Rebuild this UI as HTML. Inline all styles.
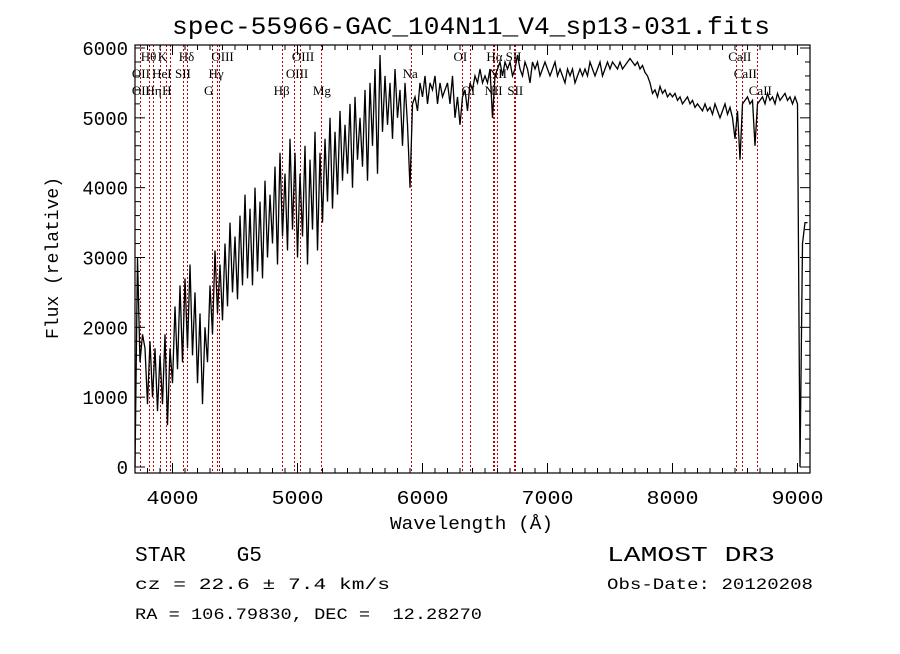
<!DOCTYPE html>
<html><head><meta charset="utf-8">
<style>
html,body{margin:0;padding:0;background:#fff;}
svg text{font-family:"Liberation Mono",monospace;}
.lbl{font-family:"Liberation Serif",serif;font-size:13px;fill:#000;}
</style></head>
<body>
<svg id="chart" width="900" height="649" xmlns="http://www.w3.org/2000/svg">
<rect width="900" height="649" fill="#fff"/>
<text x="172" y="34" font-size="25" textLength="598" lengthAdjust="spacingAndGlyphs">spec-55966-GAC_104N11_V4_sp13-031.fits</text>
<text x="390" y="529" font-size="18" textLength="163" lengthAdjust="spacingAndGlyphs">Wavelength (Å)</text>
<text transform="translate(58,258) rotate(-90)" text-anchor="middle" font-size="18">Flux (relative)</text>
<g id="lines"></g>
<g id="labels"></g>
<polyline id="spec" fill="none" stroke="#000" stroke-width="1.3"/>
<g id="axes"></g>
<text x="135" y="561" font-size="21" textLength="127" lengthAdjust="spacingAndGlyphs" xml:space="preserve">STAR    G5</text>
<text x="607" y="561" font-size="21" textLength="168" lengthAdjust="spacingAndGlyphs">LAMOST DR3</text>
<text x="135" y="589" font-size="16" textLength="255" lengthAdjust="spacingAndGlyphs">cz = 22.6 ± 7.4 km/s</text>
<text x="607" y="589" font-size="16" textLength="206" lengthAdjust="spacingAndGlyphs">Obs-Date: 20120208</text>
<text x="135" y="619" font-size="16" textLength="347" lengthAdjust="spacingAndGlyphs" xml:space="preserve">RA = 106.79830, DEC =  12.28270</text>
</svg>
<script>
const waveStart = 3700, waveStep = 20;
const flux = [
0,3000,1500,1900,1700, 900,1800,1000,1700,800, 1600,900,1900,600,1700,
1200,2300,1400,2600,1500, 2700,1700,2900,1600,2500, 1200,2200,900,2000,1500,
2600,1900,3100,2200,2900, 2100,3200,2300,3500,2500, 3300,2400,3600,2600,3900,
2700,3700,2600,4000,2800, 3800,2700,4100,3000,3900, 3200,4300,2900,4500,3300,
4200,3100,4700,3400,4500, 3000,4200,3300,4600,2900, 4400,3400,4800,3100,4500,
3500,4700,3800,5000,3700, 4800,3900,5100,4100,4900, 4200,5200,4000,5300,4400,
5000,4300,5400,4100,5500, 4600,5700,4200,5900,4800, 5600,4900,5500,4700,5700,
5000,5400,4600,5500,4900, 4000,5200,5300,5100,5500, 5300,5600,5200,5500,5400,
5600,5200,5500,5300,5400, 5500,5200,5600,5000,5300, 4900,5300,5400,5100,5500,
5400,5600,5500,5700,5500, 5600,5500,5700,5000,5600, 5700,5800,5600,5800,5700,
5800,5600,5700,5900,5700, 5600,5800,5700,5500,5800, 5700,5800,5600,5700,5800,
5700,5600,5700,5800,5600, 5700,5600,5500,5700,5600, 5700,5500,5600,5700,5600,
5700,5600,5800,5700,5600, 5700,5800,5600,5700,5800, 5700,5800,5750,5700,5800,
5700,5750,5800,5850,5800, 5750,5800,5700,5750,5650, 5600,5500,5350,5400,5300,
5450,5350,5400,5300,5350, 5300,5350,5250,5300,5200, 5250,5300,5200,5250,5150,
5200,5150,5100,5200,5100, 5150,5050,5200,5100,5000, 5100,5200,5050,5150,5000,
4700,5100,4400,5200,5250, 5300,5200,5250,4600,5200, 5250,5300,5200,5350,5250,
5300,5200,5350,5250,5300, 5350,5250,5300,5200,5300, 5200,0,3200,3500,3500];
const lineWaves = [3727,3798,3835,3889,3934,3969,4072,4102,4304,4340,4363,4861,4959,5007,5175,5893,6300,6364,6548,6563,6583,6717,6731,8498,8542,8662];
const labelTexts = ["Hθ","K","Hδ","OIII","OIII","OI","Hα","SII","CaII","OII","HeI","SII","Hγ","OIII","Na","NII","CaII","OII","Hη","H","G","Hβ","Mg","OI","NII","SII","CaII"];
const labelWaves = [3798,3934,4102,4363,5007,6300,6563,6717,8498,3727,3889,4072,4340,4959,5893,6583,8542,3727,3835,3969,4304,4861,5175,6364,6548,6731,8662];
const labelRows = [0,0,0,0,0,0,0,0,0,1,1,1,1,1,1,1,1,2,2,2,2,2,2,2,2,2,2];
const xTicks = [4000,5000,6000,7000,8000,9000];
const yTicks = [0,1000,2000,3000,4000,5000,6000];

const L=135,R=810,T=45,B=473, xmin=3700,xmax=9100, ymin=-86,ymax=6043;
const X=w=>L+(w-xmin)/(xmax-xmin)*(R-L);
const Y=f=>B-(f-ymin)/(ymax-ymin)*(B-T);
const NS="http://www.w3.org/2000/svg";
function mk(tag,attrs,parent){const e=document.createElementNS(NS,tag);for(const k in attrs)e.setAttribute(k,attrs[k]);parent.appendChild(e);return e;}

const gl=document.getElementById('lines');
lineWaves.forEach(w=>{const x=Math.round(X(w+12))+0.5;
 const l=mk('line',{x1:x,x2:x,y1:T,y2:B,stroke:'#c00000','stroke-width':1,'stroke-dasharray':'2,2'},gl);
 
 });

const glb=document.getElementById('labels');
labelTexts.forEach((t,i)=>{
 const e=mk('text',{x:X(labelWaves[i]+12)-8,y:61+labelRows[i]*17,class:'lbl'},glb);
 e.textContent=t;
 
 });

document.getElementById('spec').setAttribute('points',flux.map((f,i)=>X(waveStart+i*waveStep).toFixed(1)+','+Y(f).toFixed(1)).join(' '));

const ga=document.getElementById('axes');
mk('rect',{x:L,y:T,width:R-L,height:B-T,fill:'none',stroke:'#000','stroke-width':1.2},ga);
for(let w=3700;w<=xmax;w+=100){const x=X(w),maj=w%1000===0,len=maj?10:5;
 mk('line',{x1:x,x2:x,y1:B,y2:B-len,stroke:'#000'},ga);
 mk('line',{x1:x,x2:x,y1:T,y2:T+len,stroke:'#000'},ga);}
for(let f=0;f<=6000;f+=200){const y=Y(f),maj=f%1000===0,len=maj?10:5;
 mk('line',{x1:L,x2:L+len,y1:y,y2:y,stroke:'#000'},ga);
 mk('line',{x1:R,x2:R-len,y1:y,y2:y,stroke:'#000'},ga);}
xTicks.forEach(w=>{const t=mk('text',{x:X(w)-26,y:504,'font-size':'19',textLength:'52',lengthAdjust:'spacingAndGlyphs'},ga);t.textContent=w;
 
 });
yTicks.forEach(f=>{const t=mk('text',{x:128,y:Y(f)+7,'text-anchor':'end','font-size':'19'},ga);t.textContent=f;
 
 });
</script>
</body></html>
